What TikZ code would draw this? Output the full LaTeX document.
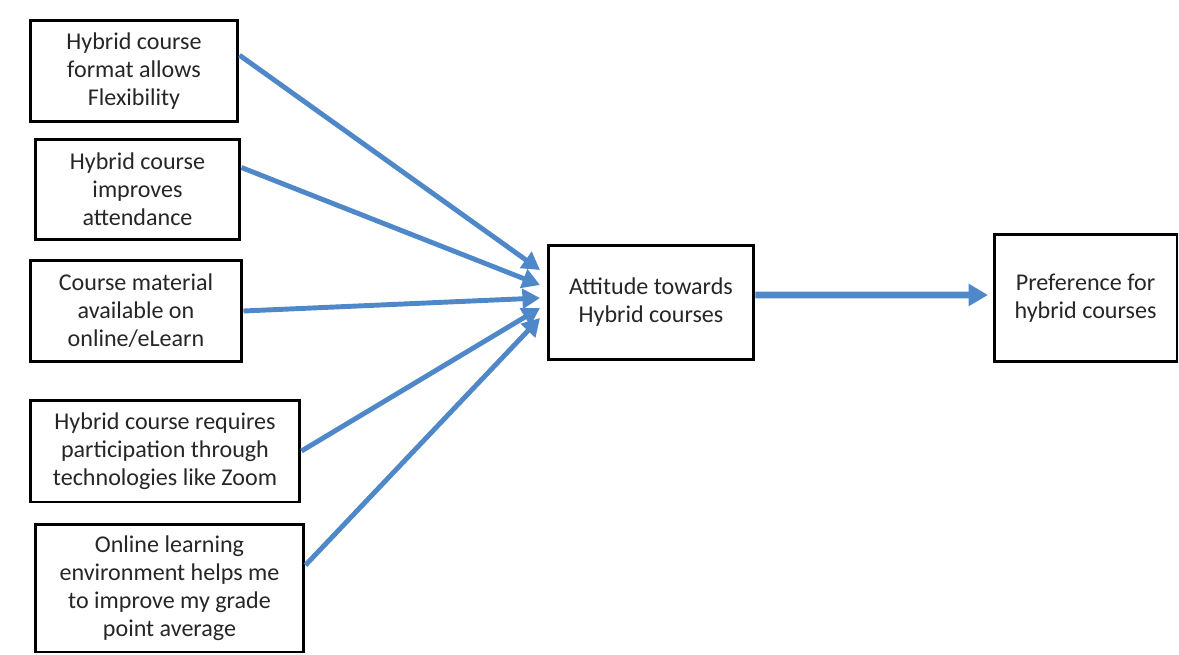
\documentclass[tikz,border=0pt]{standalone}
\usepackage{fontspec}
\setmainfont{Carlito}
\usetikzlibrary{arrows.meta}
\definecolor{arrowblue}{RGB}{79,136,200}

\begin{document}
\begin{tikzpicture}[x=0.02cm, y=-0.02cm,
  box/.style={draw, line width=1.7pt, align=center, inner sep=0pt,
    font=\fontsize{13.7}{16}\selectfont, text=black!85},
  link/.style={draw=arrowblue, line width=2.8pt,
    -{Triangle[length=10pt,width=11pt]}},
  mainlink/.style={draw=arrowblue, line width=3.8pt,
    -{Triangle[length=11pt,width=12pt]}}]
\useasboundingbox (0,0) rectangle (1179,655);

% factor boxes
\node[box, minimum width=4.16cm, minimum height=2.04cm] (flex)  at (134,71)
  {Hybrid course\\format allows\\Flexibility};
\node[box, minimum width=4.10cm, minimum height=2.02cm] (attend) at (137.5,189.5)
  {Hybrid course\\improves\\attendance};
\node[box, minimum width=4.24cm, minimum height=2.04cm] (elearn) at (136,311)
  {Course material\\available on\\online/eLearn};
\node[box, minimum width=5.40cm, minimum height=2.04cm] (zoom)  at (165,451)
  {Hybrid course requires\\participation through\\technologies like Zoom};
\node[box, minimum width=5.38cm, minimum height=2.56cm] (grade) at (169.5,588)
  {Online learning\\environment helps me\\to improve my grade\\point average};

% attitude and preference
\node[box, minimum width=4.12cm, minimum height=2.30cm] (attitude) at (651,302.5)
  {Attitude towards\\Hybrid courses};
\node[box, minimum width=3.66cm, minimum height=2.56cm] (pref) at (1085.5,298)
  {Preference for\\hybrid courses};

% arrow tips
\coordinate (tip1) at (540,270);
\coordinate (tip2) at (540,285);
\coordinate (tip3) at (540,298);
\coordinate (tip4) at (540,308);
\coordinate (tip5) at (540,318);
\coordinate (tipP) at (988,295);

\draw[link] ([yshift=9pt]flex.east) -- (tip1);
\draw[link] ([yshift=12.5pt]attend.east) -- (tip2);
\draw[link] (elearn.east) -- (tip3);
\draw[link] (zoom.east) -- (tip4);
\draw[link] ([yshift=13pt]grade.east) -- (tip5);
\draw[mainlink] ([yshift=4.3pt]attitude.east) -- (tipP);
\end{tikzpicture}
\end{document}
